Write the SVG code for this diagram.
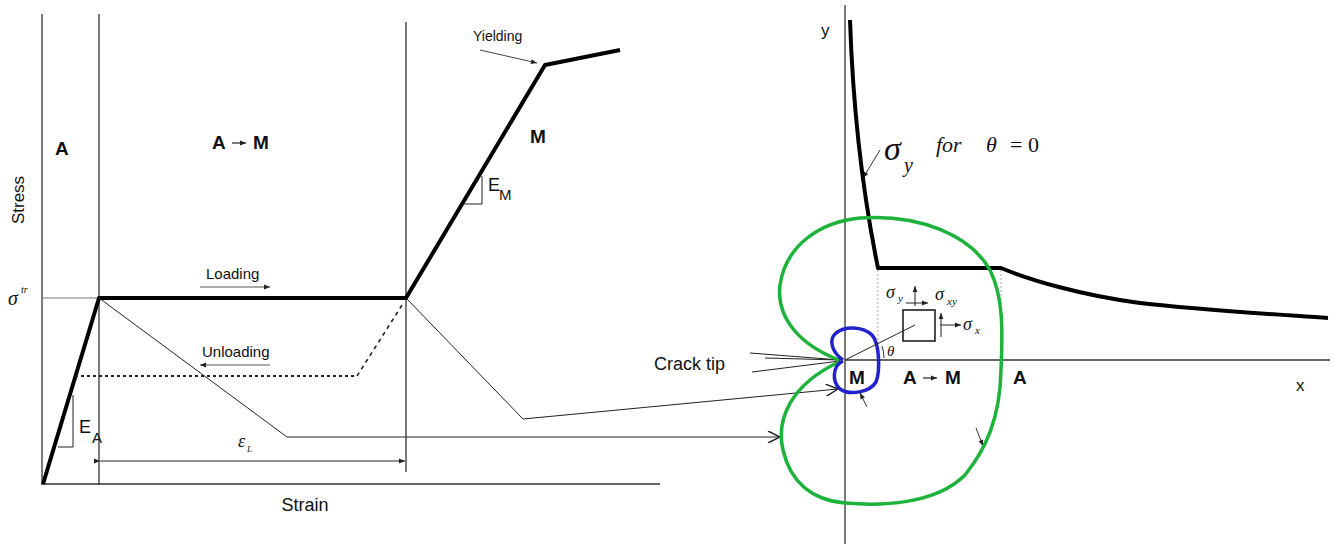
<svg xmlns="http://www.w3.org/2000/svg" width="1338" height="544" viewBox="0 0 1338 544">
<style>
.t{font-family:"Liberation Sans",Arial,sans-serif;fill:#111}
.b{font-weight:bold;font-size:19px}
.m{font-family:"Liberation Serif","Times New Roman",serif;font-style:italic;fill:#111}
.u{font-family:"Liberation Serif","Times New Roman",serif;fill:#111}
.thin{stroke:#222;stroke-width:1;fill:none}
.axis{stroke:#333;stroke-width:1.3;fill:none}
.thick{stroke:#000;stroke-width:4;fill:none;stroke-linejoin:round}
</style>
<defs>
<marker id="fa" viewBox="0 0 10 10" refX="10" refY="5" markerWidth="7" markerHeight="6" orient="auto" markerUnits="userSpaceOnUse"><path d="M0,1 L10,5 L0,9 z" fill="#222"/></marker>
<marker id="oa" viewBox="0 0 10 10" refX="10" refY="5" markerWidth="14" markerHeight="12" orient="auto" markerUnits="userSpaceOnUse"><path d="M0,0 L10,5 L0,10" fill="none" stroke="#222" stroke-width="1.2"/></marker>
</defs>
<rect width="1338" height="544" fill="#fff"/>
<g id="left-axes">
<line class="axis" x1="42" y1="14" x2="42" y2="485"/>
<line class="axis" x1="99" y1="14" x2="99" y2="485"/>
<line class="axis" x1="406" y1="22" x2="406" y2="472"/>
<line class="axis" x1="42" y1="484" x2="660" y2="484"/>
<line stroke="#777" stroke-width="1" x1="42" y1="298" x2="99" y2="298"/>
</g>
<g id="stress-strain-curve">
<polyline class="thick" points="43,484 99,298 406,298 545,65 620,50"/>
<line stroke="#222" stroke-width="2" stroke-dasharray="3,3" x1="75" y1="376" x2="357" y2="376"/>
<line stroke="#222" stroke-width="1.6" stroke-dasharray="4,4" x1="357" y1="376" x2="404" y2="302"/>
<polyline class="thin" points="73,395 73,447 58,447"/>
<polyline class="thin" points="482,176 482,204 463,204"/>
</g>
<g id="connectors">
<polyline class="thin" points="99,298 287,437 780,437" marker-end="url(#oa)"/>
<polyline class="thin" points="406,298 523,419 838,389" marker-end="url(#oa)"/>
<line class="thin" x1="100" y1="461" x2="405" y2="461" marker-start="url(#fa)" marker-end="url(#fa)"/>
<line stroke="#444" stroke-width="1" x1="480" y1="50" x2="537" y2="63" marker-end="url(#fa)"/>
<line stroke="#555" stroke-width="1.2" x1="200" y1="287" x2="270" y2="287" marker-end="url(#fa)"/>
<line stroke="#555" stroke-width="1.2" x1="270" y1="365" x2="200" y2="365" marker-end="url(#fa)"/>
<line class="thin" x1="750" y1="353" x2="840" y2="360"/>
<line class="thin" x1="765" y1="358" x2="840" y2="360"/>
<line class="thin" x1="752" y1="372" x2="840" y2="361"/>
<line stroke="#333" stroke-width="1" x1="880" y1="150" x2="863" y2="178" marker-end="url(#fa)"/>
<line stroke="#333" stroke-width="1" x1="867" y1="407" x2="860" y2="393" marker-end="url(#fa)"/>
<line stroke="#333" stroke-width="1" x1="976" y1="428" x2="983" y2="446" marker-end="url(#fa)"/>
</g>
<g id="left-labels">
<text class="t" font-size="17" transform="translate(24,200) rotate(-90)" text-anchor="middle">Stress</text>
<text class="m" font-size="20" x="8" y="305">σ</text>
<text class="m" font-size="10" x="21" y="293">tr</text>
<text class="t b" x="55" y="155">A</text>
<text class="t b" x="212" y="149">A</text>
<line stroke="#333" stroke-width="1.3" x1="232" y1="143" x2="246" y2="143" marker-end="url(#fa)"/>
<text class="t b" x="253" y="149">M</text>
<text class="t b" x="530" y="143">M</text>
<text class="t" font-size="14" x="473" y="41">Yielding</text>
<text class="t" font-size="15" x="206" y="279">Loading</text>
<text class="t" font-size="15" x="202" y="357">Unloading</text>
<text class="t" font-size="18" x="79" y="433">E</text>
<text class="t" font-size="15" x="92" y="443">A</text>
<text class="t" font-size="18" x="488" y="191">E</text>
<text class="t" font-size="15" x="499" y="200">M</text>
<text class="m" font-size="18" x="238" y="447">ε</text>
<text class="m" font-size="9" x="247" y="452">L</text>
<text class="t" font-size="18" x="305" y="511" text-anchor="middle">Strain</text>
</g>
<g id="right-axes">
<line class="axis" x1="845" y1="5" x2="845" y2="544"/>
<line class="axis" x1="845" y1="360" x2="1330" y2="360"/>
<text class="t" font-size="17" x="821" y="36">y</text>
<text class="t" font-size="17" x="1296" y="391">x</text>
</g>
<g id="sigma-y-curve">
<path class="thick" d="M850,20 C852,80 858,170 878,268 L1001,268 C1030,280 1080,295 1140,303 C1200,310 1270,314 1328,318"/>
<line stroke="#aaa" stroke-width="1" stroke-dasharray="2,2" x1="878" y1="270" x2="878" y2="360"/>
<line stroke="#aaa" stroke-width="1" stroke-dasharray="2,2" x1="1001" y1="270" x2="1001" y2="360"/>
</g>
<g id="green-zone">
<path d="M839,360 C800,345 776,318 780,285 C786,245 820,222 860,218 C920,214 970,235 990,270 C1005,300 1002,340 1001,370 C1000,420 985,450 965,475 C935,505 880,506 845,503 C810,500 790,480 783,450 C776,420 790,385 839,362" fill="none" stroke="#1db33a" stroke-width="3.5"/>
</g>
<g id="blue-zone">
<path d="M843,360 C832,352 828,340 836,333 C845,326 862,326 872,335 C880,344 880,372 876,382 C870,392 850,396 840,389 C832,382 832,366 843,361" fill="none" stroke="#2222cc" stroke-width="3.5"/>
</g>
<g id="element">
<rect x="903" y="310" width="32" height="31" fill="none" stroke="#111" stroke-width="1.5"/>
<line class="thin" x1="845" y1="360" x2="915" y2="325"/>
<path d="M882,346 A38,38 0 0 1 884,358" fill="none" stroke="#333" stroke-width="1"/>
<text class="m" font-size="15" x="887" y="356">θ</text>
<line stroke="#222" stroke-width="1" x1="915" y1="306" x2="915" y2="286" marker-end="url(#fa)"/>
<line stroke="#222" stroke-width="1" x1="906" y1="303" x2="928" y2="303" marker-end="url(#fa)"/>
<line stroke="#222" stroke-width="1" x1="941" y1="337" x2="941" y2="313" marker-end="url(#fa)"/>
<line stroke="#222" stroke-width="1" x1="940" y1="325" x2="961" y2="325" marker-end="url(#fa)"/>
<text class="m" font-size="18" x="886" y="298">σ</text>
<text class="m" font-size="11" x="898" y="302">y</text>
<text class="m" font-size="18" x="935" y="300">σ</text>
<text class="m" font-size="11" x="947" y="305">xy</text>
<text class="m" font-size="18" x="963" y="330">σ</text>
<text class="m" font-size="11" x="975" y="334">x</text>
</g>
<g id="right-labels">
<text class="m" font-size="34" x="884" y="160">σ</text>
<text class="m" font-size="20" x="904" y="172">y</text>
<text class="m" font-size="22" x="936" y="152">for</text>
<text class="m" font-size="22" x="986" y="152">θ</text>
<text class="u" font-size="22" x="1010" y="152">= 0</text>
<text class="t" font-size="18" x="654" y="370">Crack tip</text>
<text class="t b" x="849" y="384">M</text>
<text class="t b" x="903" y="384">A</text>
<line stroke="#333" stroke-width="1.3" x1="923" y1="378" x2="937" y2="378" marker-end="url(#fa)"/>
<text class="t b" x="945" y="384">M</text>
<text class="t b" x="1013" y="384">A</text>
</g>
</svg>
